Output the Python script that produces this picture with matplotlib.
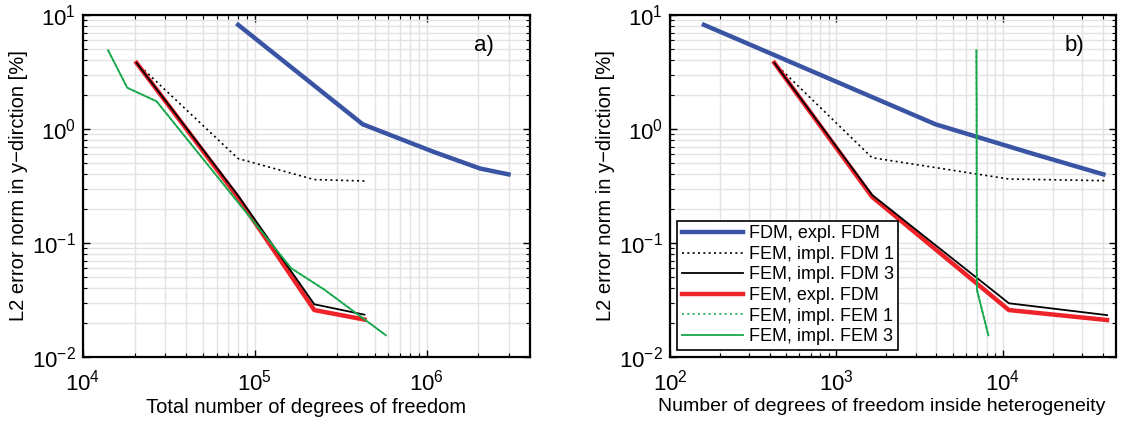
import numpy as np
import matplotlib.pyplot as plt

plt.rcParams['font.family'] = ['Liberation Sans', 'DejaVu Sans']
plt.rcParams['mathtext.default'] = 'regular'

# colours of the printed figure
c_blue = '#3a54a4'
c_red = '#ee2229'
c_green = '#16a84a'

labels = ['FDM, expl. FDM', 'FEM, impl. FDM 1', 'FEM, impl. FDM 3',
          'FEM, expl. FDM', 'FEM, impl. FEM 1', 'FEM, impl. FEM 3']

# panel a) total number of degrees of freedom
a_fdm_x = [8.0e4, 4.25e5, 1.1e6, 2.05e6, 3.0e6]
a_fdm_y = [8.2, 1.1, 0.63, 0.45, 0.40]
a_fem_x = [2.05e4, 8.0e4, 2.22e5, 4.35e5]
a_impl1_y = [3.8, 0.55, 0.36, 0.35]
a_impl3_y = [3.8, 0.26, 0.029, 0.0235]
a_expl_y = [3.8, 0.25, 0.0258, 0.0213]
a_fem3_x = [1.4e4, 1.81e4, 2.68e4, 1.63e5, 2.54e5, 5.8e5]
a_fem3_y = [4.9, 2.3, 1.75, 0.060, 0.039, 0.0155]

# panel b) degrees of freedom inside heterogeneity
b_fdm_x = [160, 3945, 1.5e4, 4.03e4]
b_fdm_y = [8.2, 1.1, 0.61, 0.40]
b_fem_x = [424, 1.64e3, 1.09e4, 4.24e4]
b_impl1_y = [3.8, 0.56, 0.364, 0.352]
b_impl3_y = [3.8, 0.264, 0.0296, 0.0233]
b_expl_y = [3.8, 0.254, 0.0258, 0.0211]
b_fem3_x = [6.95e3, 6.96e3, 6.97e3, 6.98e3, 7.0e3, 8.2e3]
b_fem3_y = [4.9, 2.3, 1.75, 0.060, 0.039, 0.0155]

fig = plt.figure(figsize=(11.21, 4.26), dpi=100)
ax1 = fig.add_axes([83/1121, 1-357/426, 447/1121, 342/426])
ax2 = fig.add_axes([670/1121, 1-357/426, 446/1121, 342/426])


def draw(ax, fdm_x, fdm_y, fem_x, i1, i3, ex, f3x, f3y):
    ax.plot(fdm_x, fdm_y, color=c_blue, lw=3.2, label=labels[0], zorder=3)
    ax.plot(fem_x, i1, color='black', lw=1.2, ls=(0, (1.2, 2)), label=labels[1], zorder=3)
    ax.plot(fem_x, i3, color='black', lw=1.3, label=labels[2], zorder=5)
    ax.plot(fem_x, ex, color=c_red, lw=3.2, label=labels[3], zorder=4)
    ax.plot(f3x, f3y, color=c_green, lw=1.2, ls=(0, (1.2, 2)), label=labels[4], zorder=6)
    ax.plot(f3x, f3y, color=c_green, lw=1.3, label=labels[5], zorder=6)
    ax.set_xscale('log')
    ax.set_yscale('log')
    ax.set_ylim(1e-2, 1e1)
    ax.grid(True, which='both', color='#e3e3e3', lw=1.0, zorder=0)
    ax.set_axisbelow(True)
    ax.tick_params(which='both', direction='in', top=True, right=True, labelsize=16)
    ax.tick_params(axis='x', which='major', pad=9)
    ax.tick_params(axis='y', which='major', pad=5)
    ax.tick_params(which='major', length=5, width=1)
    ax.tick_params(which='minor', length=3, width=0.8)
    for s in ax.spines.values():
        s.set_linewidth(1.6)
    ax.set_ylabel('L2 error norm in y\u2212dirction [%]', fontsize=14.5, labelpad=3)


draw(ax1, a_fdm_x, a_fdm_y, a_fem_x, a_impl1_y, a_impl3_y, a_expl_y, a_fem3_x, a_fem3_y)
draw(ax2, b_fdm_x, b_fdm_y, b_fem_x, b_impl1_y, b_impl3_y, b_expl_y, b_fem3_x, b_fem3_y)

ax1.set_xlim(1e4, 4e6)
ax2.set_xlim(1e2, 4.8e4)
ax1.set_xlabel('Total number of degrees of freedom', fontsize=14.5, labelpad=2)
ax2.set_xlabel('Number of degrees of freedom inside heterogeneity', fontsize=14, labelpad=2)
ax2.xaxis.set_label_coords(0.475, -0.12)
ax1.text(0.875, 0.895, 'a)', transform=ax1.transAxes, fontsize=16)
ax2.text(0.885, 0.895, 'b)', transform=ax2.transAxes, fontsize=16)

leg = ax2.legend(loc='lower left', fontsize=13, handlelength=3.4, labelspacing=0.2,
                 handletextpad=0.3, borderaxespad=0.4, fancybox=False, framealpha=1,
                 borderpad=0.25)
leg.get_frame().set_edgecolor('black')
leg.get_frame().set_linewidth(1.2)

fig.savefig('out.png', dpi=100)
